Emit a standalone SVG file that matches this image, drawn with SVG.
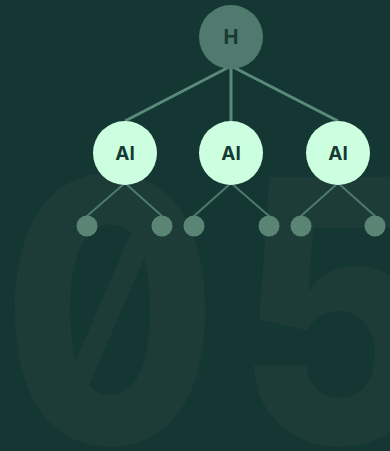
<svg xmlns="http://www.w3.org/2000/svg" width="390" height="451" viewBox="0 0 390 451">
<style>
.wm{font-family:Inter,"Noto Sans",sans-serif;font-weight:800;font-size:366px;fill:#1d3c38;font-feature-settings:"zero" 1;letter-spacing:22px}
.top{fill:#4f7a6d}
.ai{fill:#ccffe0}
.leaf{fill:#5a8575}
.lbl{font-family:Inter,"Liberation Sans",sans-serif;font-weight:bold;text-anchor:middle;fill:#173a33}
.c1{stroke:#5a8a7a;stroke-width:3;fill:none}
.c2{stroke:#4d7a6c;stroke-width:2;fill:none}
</style>
<rect width="390" height="451" fill="#143733"/>
<text class="wm" x="3" y="443" transform="scale(0.85,1)">05</text>
<g id="connectors">
<line class="c1" x1="231" y1="66" x2="125" y2="121"/>
<line class="c1" x1="231" y1="66" x2="231" y2="121"/>
<line class="c1" x1="231" y1="66" x2="338" y2="121"/>
<line class="c2" x1="125" y1="183" x2="87" y2="216"/>
<line class="c2" x1="125" y1="183" x2="162" y2="216"/>
<line class="c2" x1="231" y1="183" x2="194" y2="216"/>
<line class="c2" x1="231" y1="183" x2="269" y2="216"/>
<line class="c2" x1="338" y1="183" x2="301" y2="216"/>
<line class="c2" x1="338" y1="183" x2="375" y2="216"/>
</g>
<g id="h"><circle class="top" cx="231" cy="37" r="32"/><text class="lbl" x="231" y="44" font-size="20">H</text></g>
<g id="ai1"><circle class="ai" cx="125" cy="153" r="32"/><text class="lbl" x="125" y="160" font-size="19">AI</text></g>
<g id="ai2"><circle class="ai" cx="231" cy="153" r="32"/><text class="lbl" x="231" y="160" font-size="19">AI</text></g>
<g id="ai3"><circle class="ai" cx="338" cy="153" r="32"/><text class="lbl" x="338" y="160" font-size="19">AI</text></g>
<g id="l1"><circle class="leaf" cx="87" cy="226" r="10.5"/></g>
<g id="l2"><circle class="leaf" cx="162" cy="226" r="10.5"/></g>
<g id="l3"><circle class="leaf" cx="194" cy="226" r="10.5"/></g>
<g id="l4"><circle class="leaf" cx="269" cy="226" r="10.5"/></g>
<g id="l5"><circle class="leaf" cx="301" cy="226" r="10.5"/></g>
<g id="l6"><circle class="leaf" cx="375" cy="226" r="10.5"/></g>
</svg>
